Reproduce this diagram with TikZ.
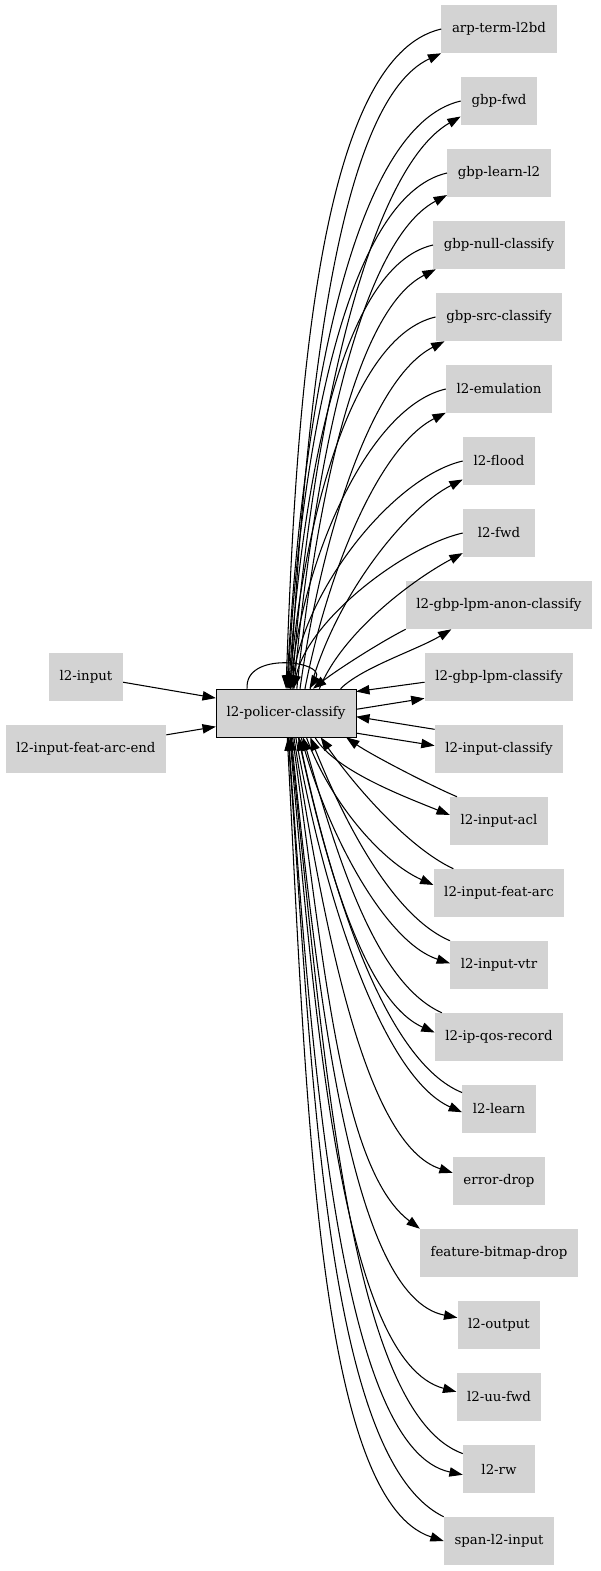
\documentclass[tikz,border=0pt]{standalone}
\usepackage{fontspec}
\setmainfont{DejaVu Serif}
\usetikzlibrary{arrows.meta}
\tikzset{>={Triangle[length=10pt,width=7pt]}}
\definecolor{nodegray}{RGB}{211,211,211}

\begin{document}
\begin{tikzpicture}[x=0.75pt,y=0.75pt,
	blk/.style = {% graph nodes
		fill=nodegray, minimum height=36pt, minimum width=54pt,
		inner xsep=7.9pt, font=\fontsize{10}{12}\selectfont},
	cur/.style = {blk, draw=black},
	lnk/.style = {->, line width=0.8pt},
	]
	\useasboundingbox (0,0) rectangle (600,-1571);
	
	% centre node and its inputs
	\node[cur] (pc) at (286,-713) {l2-policer-classify};
	\node[blk] (inp) at (86,-677) {l2-input};
	\node[blk] (featend) at (86,-749) {l2-input-feat-arc-end};
	
	% next nodes
	\node[blk] (arp) at (499,-29) {arp-term-l2bd};
	\node[blk] (gbpfwd) at (499,-101) {gbp-fwd};
	\node[blk] (gbplearn) at (499,-173) {gbp-learn-l2};
	\node[blk] (gbpnull) at (499,-245) {gbp-null-classify};
	\node[blk] (gbpsrc) at (499,-317) {gbp-src-classify};
	\node[blk] (emul) at (499,-389) {l2-emulation};
	\node[blk] (flood) at (499,-461) {l2-flood};
	\node[blk] (fwd) at (499,-533) {l2-fwd};
	\node[blk] (anon) at (499,-605) {l2-gbp-lpm-anon-classify};
	\node[blk] (lpm) at (499,-677) {l2-gbp-lpm-classify};
	\node[blk] (icls) at (499,-749) {l2-input-classify};
	\node[blk] (acl) at (499,-821) {l2-input-acl};
	\node[blk] (feat) at (499,-893) {l2-input-feat-arc};
	\node[blk] (vtr) at (499,-965) {l2-input-vtr};
	\node[blk] (qos) at (499,-1037) {l2-ip-qos-record};
	\node[blk] (learn) at (499,-1109) {l2-learn};
	\node[blk] (drop) at (499,-1181) {error-drop};
	\node[blk] (fbd) at (499,-1253) {feature-bitmap-drop};
	\node[blk] (l2out) at (499,-1325) {l2-output};
	\node[blk] (uufwd) at (499,-1397) {l2-uu-fwd};
	\node[blk] (rw) at (499,-1469) {l2-rw};
	\node[blk] (span) at (499,-1541) {span-l2-input};
	
	% inputs
	\draw[lnk] (inp.-8) -- (pc.168);
	\draw[lnk] (featend.10) -- (pc.191);
	\draw[lnk] (pc.148) .. controls +(95:38) and +(60:32) .. (pc.46);
	
	% upper, out
	\draw[lnk] (pc.80) .. controls +(87:286) and +(205:115) .. (arp.south west);
	\draw[lnk] (pc.76) .. controls +(86:257) and +(210:108) .. (gbpfwd.202);
	\draw[lnk] (pc.72) .. controls +(85:222) and +(208:99) .. (gbplearn.203);
	\draw[lnk] (pc.66) .. controls +(84:190) and +(207:90) .. (gbpnull.201);
	\draw[lnk] (pc.60) .. controls +(82:156) and +(207:82) .. (gbpsrc.204);
	\draw[lnk] (pc.52) .. controls +(79:125) and +(207:73) .. (emul.204);
	\draw[lnk] (pc.45) .. controls +(75:95) and +(207:65) .. (flood.207);
	\draw[lnk] (pc.36) .. controls +(68:61) and +(208:56) .. (fwd.209);
	\draw[lnk] (pc.24) .. controls +(45:30) and +(211:40) .. (anon.207);
	% upper, back
	\draw[lnk] (arp.west) .. controls +(193:125) and +(88:297) .. (pc.90);
	\draw[lnk] (gbpfwd.west) .. controls +(193:115) and +(87:266) .. (pc.88);
	\draw[lnk] (gbplearn.west) .. controls +(193:105) and +(87:232) .. (pc.86);
	\draw[lnk] (gbpnull.west) .. controls +(193:96) and +(86:200) .. (pc.84);
	\draw[lnk] (gbpsrc.west) .. controls +(193:87) and +(85:167) .. (pc.82);
	\draw[lnk] (emul.west) .. controls +(193:78) and +(84:135) .. (pc.80);
	\draw[lnk] (flood.west) .. controls +(193:70) and +(82:103) .. (pc.77);
	\draw[lnk] (fwd.west) .. controls +(193:61) and +(78:70) .. (pc.73);
	\draw[lnk] (anon.south west) .. controls +(207:30) and +(38:30) .. (pc.42);
	
	% side
	\draw[lnk] (pc.3) -- (lpm.196);
	\draw[lnk] (lpm.184) -- (pc.17);
	\draw[lnk] (pc.-16) -- (icls.177);
	\draw[lnk] (icls.163) -- (pc.-3);
	
	% lower, out
	\draw[lnk] (pc.-40) .. controls +(-60:38) and +(158:49) .. (acl.173);
	\draw[lnk] (pc.-50) .. controls +(-70:67) and +(156:58) .. (feat.173);
	\draw[lnk] (pc.-58) .. controls +(-75:102) and +(162:67) .. (vtr.178);
	\draw[lnk] (pc.-63) .. controls +(-78:133) and +(156:76) .. (qos.176);
	\draw[lnk] (pc.-68) .. controls +(-80:169) and +(156:85) .. (learn.185);
	\draw[lnk] (pc.-72) .. controls +(-81:196) and +(162:92) .. (drop.170);
	\draw[lnk] (pc.-75) .. controls +(-82:222) and +(143:100) .. (fbd.north west);
	\draw[lnk] (pc.-78) .. controls +(-84:261) and +(169:109) .. (l2out.170);
	\draw[lnk] (pc.-81) .. controls +(-85:295) and +(165:117) .. (uufwd.173);
	\draw[lnk] (pc.-84) .. controls +(-86:332) and +(168:125) .. (rw.189);
	\draw[lnk] (pc.-87) .. controls +(-87:362) and +(162:133) .. (span.west);
	% lower, back
	\draw[lnk] (acl.150) .. controls +(157:30) and +(-35:30) .. (pc.-22);
	\draw[lnk] (feat.152) .. controls +(155:50) and +(-55:59) .. (pc.-35);
	\draw[lnk] (vtr.north west) .. controls +(157:62) and +(-68:92) .. (pc.-45);
	\draw[lnk] (qos.157) .. controls +(156:73) and +(-74:124) .. (pc.-55);
	\draw[lnk] (learn.156) .. controls +(158:82) and +(-78:160) .. (pc.-62);
	\draw[lnk] (rw.157) .. controls +(160:120) and +(-84:323) .. (pc.-80);
	\draw[lnk] (span.north west) .. controls +(154:130) and +(-86:352) .. (pc.-85);

\end{tikzpicture}
\end{document}
